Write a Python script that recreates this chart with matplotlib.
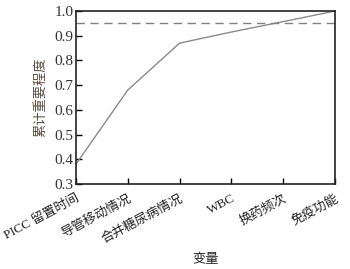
import matplotlib
matplotlib.use('Agg')
import matplotlib.pyplot as plt

# 字体设置：数字用 Times 风格，中文用 Noto Sans CJK
plt.rcParams['font.family'] = ['Liberation Serif', 'Noto Sans CJK SC']

# 数据
variables = ['PICC 留置时间', '导管移动情况', '合并糖尿病情况', 'WBC', '换药频次', '免疫功能']
cum_importance = [0.38, 0.68, 0.87, 0.915, 0.957, 1.0]
threshold = 0.95
y_ticks = [0.3, 0.4, 0.5, 0.6, 0.7, 0.8, 0.9, 1.0]

fig = plt.figure(figsize=(3.5, 2.69), dpi=100, facecolor='w')
ax = fig.add_axes([0.217, 0.316, 0.74, 0.643])

x = list(range(len(variables)))
ax.plot(x, cum_importance, color='#8a8a8a', lw=1.0)
ax.axhline(threshold, color='#808080', lw=1.0, ls=(0, (6, 4)))

ax.set_xlim(0, len(variables) - 1)
ax.set_ylim(0.3, 1.0)
ax.set_yticks(y_ticks)
ax.set_yticklabels(['%.1f' % v for v in y_ticks], fontsize=11, color='#333333')
ax.set_xticks(x)
ax.set_xticklabels(variables, rotation=28, ha='right', rotation_mode='anchor',
                   fontsize=9.3, color='#222222')
ax.tick_params(direction='in', length=4, width=1.0, top=False, right=False)
ax.tick_params(axis='y', pad=2)
ax.tick_params(axis='x', pad=6)
for s in ax.spines.values():
    s.set_linewidth(1.2)
    s.set_color('#222222')

ax.set_ylabel(u'累计重要程度', fontsize=9.5, color='#5a4a3e', labelpad=5)
ax.set_xlabel(u'变量', fontsize=9.5, color='#222222', labelpad=6)

plt.savefig('out.png', dpi=100)
